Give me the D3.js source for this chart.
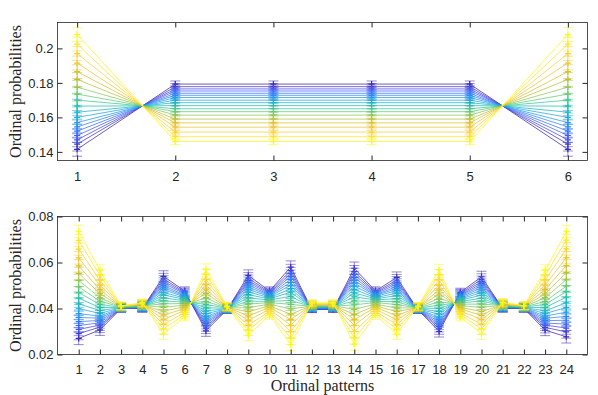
<!DOCTYPE html>
<html>
<head>
<meta charset="utf-8">
<script src="https://cdn.jsdelivr.net/npm/d3@7"></script>
<style>
  body { margin: 0; background: #fff; }
  svg { display: block; }
  .tick text { font-family: "Liberation Sans", Arial, sans-serif; font-size: 13px; fill: #262626; }
  .axis-title { font-family: "Liberation Serif", "Times New Roman", serif; font-size: 16px; fill: #262626; }
</style>
</head>
<body>
<div id="chartArea"></div>
<script>
// ---- data ----
// order 3: ordinal patterns 1..6, one row per series (blue -> yellow)
const topPatterns = [1, 2, 3, 4, 5, 6];
const topSeries = [
  [.1415, .1793, .1793, .1793, .1793, .1415],
  [.1445, .1778, .1778, .1778, .1778, .1445],
  [.1470, .1765, .1765, .1765, .1765, .1470],
  [.1495, .1753, .1753, .1753, .1753, .1495],
  [.1520, .1740, .1740, .1740, .1740, .1520],
  [.1545, .1728, .1728, .1728, .1728, .1545],
  [.1570, .1715, .1715, .1715, .1715, .1570],
  [.1600, .1700, .1700, .1700, .1700, .1600],
  [.1630, .1685, .1685, .1685, .1685, .1630],
  [.1665, .1668, .1668, .1668, .1668, .1665],
  [.1700, .1650, .1650, .1650, .1650, .1700],
  [.1735, .1633, .1633, .1633, .1633, .1735],
  [.1775, .1613, .1613, .1613, .1613, .1775],
  [.1820, .1590, .1590, .1590, .1590, .1820],
  [.1865, .1568, .1568, .1568, .1568, .1865],
  [.1915, .1543, .1543, .1543, .1543, .1915],
  [.1970, .1515, .1515, .1515, .1515, .1970],
  [.2025, .1488, .1488, .1488, .1488, .2025],
  [.2080, .1460, .1460, .1460, .1460, .2080]
];
const topErrors = [.0040, .0018, .0018, .0018, .0018, .0040];
const topYTicks = [0.14, 0.16, 0.18, 0.2];

// order 4: ordinal patterns 1..24
const bottomPatterns = [1, 2, 3, 4, 5, 6, 7, 8, 9, 10, 11, 12, 13, 14, 15, 16, 17, 18, 19, 20, 21, 22, 23, 24];
const bottomSeries = [
  [.0270,.0307,.0400,.0400,.0540,.0476,.0303,.0395,.0544,.0476,.0580,.0395,.0396,.0575,.0476,.0535,.0395,.0300,.0470,.0538,.0400,.0400,.0306,.0277],
  [.0291,.0319,.0401,.0401,.0529,.0471,.0315,.0396,.0532,.0471,.0565,.0396,.0397,.0560,.0471,.0524,.0396,.0312,.0465,.0527,.0401,.0401,.0318,.0298],
  [.0309,.0328,.0401,.0402,.0519,.0467,.0325,.0396,.0522,.0467,.0552,.0397,.0398,.0548,.0467,.0515,.0396,.0322,.0461,.0517,.0402,.0401,.0328,.0315],
  [.0326,.0338,.0401,.0403,.0510,.0463,.0335,.0397,.0513,.0463,.0540,.0399,.0399,.0535,.0463,.0506,.0397,.0332,.0457,.0508,.0403,.0402,.0337,.0332],
  [.0343,.0348,.0402,.0404,.0500,.0458,.0345,.0397,.0503,.0459,.0527,.0400,.0401,.0523,.0459,.0496,.0397,.0342,.0453,.0499,.0404,.0402,.0347,.0349],
  [.0361,.0358,.0402,.0405,.0491,.0454,.0355,.0398,.0493,.0456,.0514,.0401,.0402,.0511,.0456,.0487,.0398,.0352,.0449,.0490,.0405,.0403,.0357,.0366],
  [.0378,.0367,.0403,.0406,.0482,.0450,.0365,.0398,.0483,.0452,.0501,.0402,.0403,.0498,.0452,.0478,.0398,.0362,.0445,.0480,.0406,.0403,.0367,.0384],
  [.0399,.0379,.0403,.0407,.0470,.0445,.0377,.0399,.0472,.0447,.0486,.0403,.0404,.0483,.0447,.0467,.0399,.0375,.0441,.0469,.0408,.0404,.0378,.0404],
  [.0420,.0391,.0404,.0408,.0459,.0440,.0389,.0400,.0460,.0442,.0471,.0405,.0405,.0468,.0442,.0456,.0400,.0387,.0436,.0458,.0409,.0404,.0390,.0425],
  [.0445,.0404,.0405,.0409,.0446,.0434,.0403,.0401,.0446,.0437,.0453,.0406,.0407,.0451,.0437,.0443,.0401,.0401,.0430,.0445,.0410,.0405,.0404,.0449],
  [.0469,.0418,.0405,.0411,.0433,.0428,.0418,.0401,.0432,.0431,.0435,.0408,.0408,.0433,.0431,.0430,.0401,.0415,.0425,.0432,.0412,.0406,.0418,.0473],
  [.0494,.0432,.0406,.0412,.0420,.0422,.0431,.0402,.0419,.0426,.0418,.0409,.0410,.0416,.0426,.0417,.0402,.0429,.0419,.0419,.0413,.0406,.0431,.0497],
  [.0522,.0447,.0406,.0414,.0405,.0415,.0447,.0403,.0403,.0419,.0398,.0411,.0412,.0396,.0419,.0402,.0403,.0445,.0413,.0404,.0415,.0407,.0447,.0525],
  [.0553,.0465,.0407,.0415,.0388,.0408,.0466,.0404,.0386,.0412,.0375,.0413,.0414,.0374,.0412,.0386,.0404,.0463,.0405,.0387,.0416,.0408,.0464,.0556],
  [.0585,.0482,.0408,.0417,.0371,.0400,.0484,.0405,.0368,.0405,.0352,.0415,.0416,.0352,.0405,.0369,.0405,.0481,.0398,.0370,.0418,.0409,.0482,.0587],
  [.0620,.0502,.0409,.0419,.0352,.0392,.0504,.0406,.0348,.0397,.0327,.0418,.0418,.0327,.0397,.0351,.0406,.0502,.0390,.0352,.0420,.0410,.0502,.0621],
  [.0658,.0523,.0410,.0421,.0331,.0382,.0526,.0408,.0327,.0388,.0299,.0420,.0420,.0299,.0388,.0330,.0408,.0524,.0381,.0331,.0423,.0411,.0523,.0659],
  [.0696,.0545,.0411,.0423,.0311,.0373,.0548,.0409,.0306,.0380,.0271,.0423,.0423,.0272,.0380,.0310,.0409,.0546,.0373,.0311,.0425,.0412,.0544,.0697],
  [.0735,.0566,.0412,.0425,.0290,.0364,.0570,.0410,.0284,.0371,.0243,.0425,.0425,.0245,.0371,.0290,.0410,.0568,.0364,.0290,.0427,.0413,.0566,.0735]
];
const bottomErrors = [.0027,.0024,.0016,.0016,.0024,.0018,.0024,.0016,.0024,.0018,.0027,.0013,.0013,.0027,.0018,.0024,.0016,.0024,.0018,.0024,.0016,.0016,.0024,.0027];
const bottomYTicks = [0.02, 0.04, 0.06, 0.08];

// parula-like colormap stops
const parulaStops = ['#3e26a8', '#484df0', '#327cfc', '#20a5e3', '#19bfb6', '#64cd6f', '#d1bf27', '#fec934', '#f9fb15'];
const parula = d3.piecewise(d3.interpolateRgb, parulaStops);

const width = 598, height = 395;
const svg = d3.select('#chartArea').append('svg')
    .attr('width', width)
    .attr('height', height);

function drawPanel(cfg) {
    let x = d3.scaleLinear().domain(cfg.xDomain).range([57.5, 587.5]);
    let y = d3.scaleLinear().domain(cfg.yDomain).range([cfg.bottom, cfg.top]);
    let g = svg.append('g');
    let n = cfg.series.length;

    let line = d3.line()
        .x((d, i) => x(cfg.patterns[i]))
        .y(d => y(d));

    cfg.series.forEach((row, k) => {
        let color = parula(k / (n - 1));
        let s = g.append('g');

        s.append('path')
            .attr('d', line(row))
            .attr('fill', 'none')
            .attr('stroke', color)
            .attr('stroke-opacity', 0.75)
            .attr('stroke-width', 1);

        // error bars with caps
        let bars = s.selectAll('g.bar')
            .data(row)
            .enter().append('g')
            .attr('stroke', color)
            .attr('stroke-opacity', 0.55)
            .attr('stroke-width', 1);
        bars.append('line')
            .attr('x1', (d, i) => x(cfg.patterns[i]))
            .attr('x2', (d, i) => x(cfg.patterns[i]))
            .attr('y1', (d, i) => y(d - cfg.errors[i]))
            .attr('y2', (d, i) => y(d + cfg.errors[i]));
        [-1, 1].forEach(sign => {
            bars.append('line')
                .attr('x1', (d, i) => x(cfg.patterns[i]) - cfg.cap)
                .attr('x2', (d, i) => x(cfg.patterns[i]) + cfg.cap)
                .attr('y1', (d, i) => y(d + sign * cfg.errors[i]))
                .attr('y2', (d, i) => y(d + sign * cfg.errors[i]));
        });

        // '+' markers
        s.selectAll('path.mk')
            .data(row)
            .enter().append('path')
            .attr('d', (d, i) => {
                let cx = x(cfg.patterns[i]), cy = y(d);
                return 'M' + (cx - 3) + ',' + cy + 'H' + (cx + 3) + 'M' + cx + ',' + (cy - 3) + 'V' + (cy + 3);
            })
            .attr('stroke', color)
            .attr('stroke-width', 1.2);
    });

    // axes with inward ticks, MATLAB box style
    let ax = (gen, tr) => g.append('g')
        .attr('transform', tr)
        .call(gen)
        .call(a => a.select('.domain').remove())
        .call(a => a.selectAll('.tick line').attr('stroke', '#262626'));

    ax(d3.axisBottom(x).tickValues(cfg.patterns).tickSize(-5).tickPadding(cfg.xPad).tickFormat(d3.format('d')),
        'translate(0,' + cfg.bottom + ')');
    ax(d3.axisTop(x).tickValues(cfg.patterns).tickSize(-5).tickFormat(''),
        'translate(0,' + cfg.top + ')');
    ax(d3.axisLeft(y).tickValues(cfg.yTicks).tickSize(-5).tickPadding(4).tickFormat(d3.format('~g')),
        'translate(57.5,0)');
    ax(d3.axisRight(y).tickValues(cfg.yTicks).tickSize(-5).tickFormat(''),
        'translate(587.5,0)');

    g.append('rect')
        .attr('x', 57.5)
        .attr('y', cfg.top)
        .attr('width', 530)
        .attr('height', cfg.bottom - cfg.top)
        .attr('fill', 'none')
        .attr('stroke', '#262626')
        .attr('stroke-width', 0.8);

    // y-axis title
    g.append('text')
        .attr('class', 'axis-title')
        .attr('transform', 'translate(21,' + ((cfg.top + cfg.bottom) / 2) + ') rotate(-90)')
        .attr('text-anchor', 'middle')
        .text('Ordinal probabilities');

    return g;
}

drawPanel({
    patterns: topPatterns, series: topSeries, errors: topErrors, yTicks: topYTicks,
    xDomain: [0.8, 6.2], yDomain: [0.135, 0.215],
    top: 22.5, bottom: 160.5, cap: 5, xPad: 11
});

drawPanel({
    patterns: bottomPatterns, series: bottomSeries, errors: bottomErrors, yTicks: bottomYTicks,
    xDomain: [0, 25], yDomain: [0.02, 0.08],
    top: 216.5, bottom: 354.5, cap: 5, xPad: 10
});

// x-axis title
svg.append('text')
    .attr('class', 'axis-title')
    .attr('x', 322.5)
    .attr('y', 391)
    .attr('text-anchor', 'middle')
    .text('Ordinal patterns');
</script>
</body>
</html>
